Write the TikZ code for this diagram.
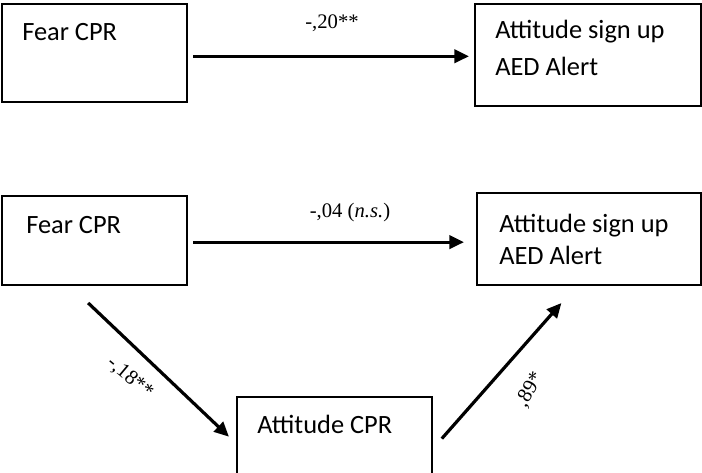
\documentclass[tikz,border=0pt]{standalone}
\usepackage{fontspec}
\setmainfont{Liberation Serif}
\newfontfamily\boxfont{Carlito}
\usetikzlibrary{arrows.meta}

\tikzset{
	box/.style={draw=black, line width=1.5pt, inner sep=0pt},
	boxtext/.style={font=\boxfont\fontsize{19.8}{27.75}\selectfont, inner sep=0pt, anchor=base west, align=left},
	coef/.style={font=\fontsize{15.5}{18}\selectfont, inner sep=0pt},
	effect/.style={line width=2.4pt, -{Triangle[length=11pt,width=10pt]}}
}

\begin{document}
\begin{tikzpicture}[x=0.75pt,y=-0.75pt]
	\useasboundingbox (0,0) rectangle (702,472);
	% total effect
	\node (fear1) at ( 94.5,  53)	[box, minimum width=138.75pt, minimum height=73.5pt]	{};
	\node (att1) at (588,  55)	[box, minimum width=169.5pt, minimum height=76.5pt]	{};
	\node (fear1txt) at ( 22,  40)	[boxtext]	{Fear CPR};
	\node (att1txt) at (495,  75)	[boxtext]	{Attitude sign up\\AED Alert};
	\draw[effect, shorten <=3.75pt, shorten >=3.75pt] (fear1.-2) -- (fear1.-2 -| att1.west);
	\node (c1) at (332,  28)	[coef, anchor=base]	{-,20**};
	% mediation model
	\node (fear2) at ( 94.5, 240.5)	[box, minimum width=138.75pt, minimum height=66.75pt]	{};
	\node (att2) at (589, 239)	[box, minimum width=168pt, minimum height=69pt]	{};
	\node (attcpr) at (334.5, 436.5)	[box, minimum width=146.25pt, minimum height=59.25pt]	{};
	\node (fear2txt) at ( 26, 233)	[boxtext]	{Fear CPR};
	\node (att2txt) at (499, 264)	[boxtext, font=\boxfont\fontsize{19.8}{23.5}\selectfont]	{Attitude sign up\\AED Alert};
	\node (attcprtxt) at (257, 433)	[boxtext]	{Attitude CPR};
	\draw[effect, shorten <=3.75pt, shorten >=9pt] (fear2.-1) -- (fear2.-1 -| att2.west);
	\draw[effect, shorten <=18.5pt, shorten >=7.3pt] (fear2.242) -- (attcpr.184);
	\draw[effect, shorten <=10pt, shorten >=17pt] (attcpr.353) -- (att2.255);
	\node (c2) at (350, 217)	[coef, anchor=base]	{-,04 (\textit{n.s.})};
	\node (c3) at (130, 378)	[coef, rotate=-40]	{-,18**};
	\node (c4) at (530, 390)	[coef, rotate=60]	{,89*};
\end{tikzpicture}
\end{document}
